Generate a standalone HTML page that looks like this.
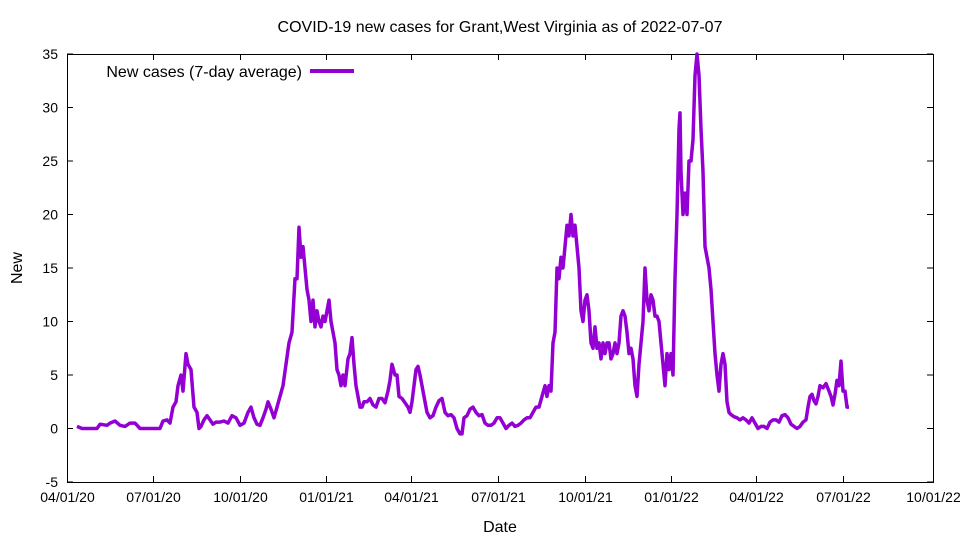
<!DOCTYPE html>
<html><head><meta charset="utf-8"><style>
body{margin:0;background:#fff}
svg{display:block;font-family:"Liberation Sans",sans-serif;font-size:14px}
</style></head><body>
<svg id="s" width="960" height="540" xmlns="http://www.w3.org/2000/svg">
<rect x="0" y="0" width="960" height="540" fill="#fff"/>
<text x="500" y="32" text-anchor="middle" font-size="16">COVID-19 new cases for Grant,West Virginia as of 2022-07-07</text>
<g id="ax" stroke="#000" stroke-width="1" fill="none"></g>
<rect x="67.5" y="54.5" width="866" height="428" fill="none" stroke="#000"/>
<g id="lbl" font-size="14"></g>
<text x="500" y="532" text-anchor="middle" font-size="16">Date</text>
<text x="22" y="268" text-anchor="middle" font-size="16" transform="rotate(-90 22 268)">New</text>
<text x="302" y="77" text-anchor="end" font-size="16">New cases (7-day average)</text>
<line x1="310" y1="71" x2="354" y2="71" stroke="#9400d3" stroke-width="4"/>
<path id="p" fill="none" stroke="#9400d3" stroke-width="3.5" stroke-linejoin="round"/>
</svg>
<script>
var ax=document.getElementById('ax'),lb=document.getElementById('lbl'),ns='http://www.w3.org/2000/svg';
function el(p,t,a,tx){var e=document.createElementNS(ns,t);for(var k in a)e.setAttribute(k,a[k]);if(tx)e.textContent=tx;p.appendChild(e);}
function Y(v){return 428.5-v*10.7;}
for(var v=-5;v<=35;v+=5){var y=Y(v);el(ax,'line',{x1:67,y1:y,x2:73,y2:y});el(ax,'line',{x1:933,y1:y,x2:927,y2:y});el(lb,'text',{x:58,y:y+5,'text-anchor':'end'},String(v));}
var xs=[67,153,240,326,411,498,585,671,756,843,933],ls=['04/01/20','07/01/20','10/01/20','01/01/21','04/01/21','07/01/21','10/01/21','01/01/22','04/01/22','07/01/22','10/01/22'];
for(var i=0;i<xs.length;i++){var x=xs[i]+0.5;el(ax,'line',{x1:x,y1:482,x2:x,y2:476});el(ax,'line',{x1:x,y1:54,x2:x,y2:60});el(lb,'text',{x:x,y:502,'text-anchor':'middle'},ls[i]);}
var d=[77,0.2,82,0,97,0,100,0.4,107,0.3,110,0.5,115,0.7,120,0.3,125,0.2,130,0.5,135,0.5,140,0,160,0,163,0.7,167,0.8,170,0.5,173,2,176,2.5,178,4,181,5,183,3.5,186,7,188,6,191,5.5,194,2,197,1.5,199,0,201,0.2,204,0.8,207,1.2,210,0.8,213,0.4,216,0.6,220,0.6,224,0.7,228,0.5,232,1.2,236,1,240,0.3,244,0.5,248,1.5,251,2,254,1,257,0.4,260,0.3,263,1,266,1.8,268,2.5,271,1.8,274,1,277,2,280,3,283,4,286,6,289,8,292,9,295,14,297,14,299,18.8,301,16,303,17,305,15,307,13,309,12,311,10,313,12,315,9.5,317,11,319,10,321,9.5,323,10.5,325,10,327,11,329,12,331,10,333,9,335,8,337,5.5,339,5,341,4,343,5,345,4,348,6.5,350,7,352,8.5,354,6,356,4,358,3,360,2,362,2,364,2.5,367,2.5,370,2.8,373,2.2,376,2,379,2.8,382,2.8,385,2.4,388,3.5,390,4.5,392,6,395,5,397,5,399,3,402,2.8,405,2.4,408,2,410,1.5,412,2.5,414,4,416,5.5,418,5.8,420,5,422,4,424,3,427,1.5,430,1,433,1.2,436,2,439,2.6,442,2.8,445,1.5,448,1.2,451,1.3,454,1,457,0,460,-0.5,462,-0.5,464,1,467,1.2,470,1.8,473,2,476,1.5,479,1.2,482,1.3,485,0.5,488,0.3,491,0.3,494,0.5,497,1,500,1,503,0.5,506,0,509,0.3,512,0.5,515,0.2,518,0.3,521,0.5,524,0.8,527,1,530,1,533,1.5,536,2,539,2,542,3,545,4,547,3,549,4,551,3.5,553,8,555,9,557,15,559,14,561,16,563,15,565,17,567,19,569,18,571,20,573,18,575,19,577,17,579,15,581,11,583,10,585,12,587,12.5,589,11,591,8,593,7.5,595,9.5,597,7.5,599,8,601,6.5,603,8,605,7,607,8,609,8,611,6.5,613,7,615,8,617,7,619,8,621,10.5,623,11,625,10.5,627,9,629,7,631,7.5,633,6.5,635,4,637,3,639,6,641,8,643,10,645,15,647,12,649,11,651,12.5,653,12,655,10.5,657,10.5,659,10,661,8,663,6,665,4,667,7,669,5.5,671,7,673,5,675,14,677,20,679,28,680,29.5,681,24,683,20,685,22,687,20,689,25,691,25,693,27,695,33,697,35,699,33,701,28,703,24,705,17,707,16,709,15,711,13,713,10,715,7,717,5,719,3.5,721,6,723,7,725,6,727,2.5,729,1.5,731,1.3,734,1.1,737,1,740,0.8,743,1,746,0.8,749,0.5,752,1,755,0.5,758,0,761,0.2,764,0.2,767,0,770,0.6,773,0.8,776,0.8,779,0.6,782,1.2,785,1.3,788,1,791,0.4,794,0.2,797,0,800,0.2,803,0.6,806,0.8,808,2,810,3,812,3.2,814,2.6,816,2.3,818,3,820,4,823,3.8,826,4.2,829,3.5,831,3,833,2.2,835,3.2,837,4.5,839,4,841,6.3,843,3.5,845,3.5,847,2,849,2];
var s='';for(var i=0;i<d.length;i+=2){s+=(i?'L':'M')+d[i]+' '+Y(d[i+1]).toFixed(1)+' ';}
document.getElementById('p').setAttribute('d',s);
</script>
</body></html>
